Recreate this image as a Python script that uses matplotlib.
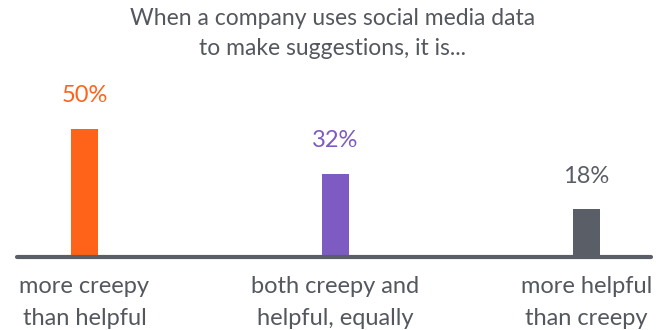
import matplotlib
matplotlib.use("Agg")
import matplotlib.pyplot as plt
from matplotlib.transforms import blended_transform_factory

categories = [["more creepy", "than helpful"],
              ["both creepy and", "helpful, equally"],
              ["more helpful", "than creepy"]]
values = [50, 32, 18]
value_labels = ["50%", "32%", "18%"]
colors = ["#FF6319", "#7E5BC3", "#5A5E66"]
title_lines = ["When a company uses social media data", "to make suggestions, it is..."]

plt.rcParams["font.family"] = ["Lato", "DejaVu Sans"]
text_color = "#54585E"
H = 330.0

fig = plt.figure(figsize=(6.65, 3.3), dpi=100)
ax = fig.add_axes([0, 0, 1, 1])
ax.axis("off")

# pixel mapping: bar centers at 84.5 + 251*i, baseline 75px from bottom, 2.53 px per %
px_per_unit_x = 251.0
px_per_pct = 2.53
ax.set_xlim(-84.5 / px_per_unit_x, (665 - 84.5) / px_per_unit_x)
ax.set_ylim(-75 / px_per_pct, (H - 75) / px_per_pct)

xs = list(range(len(values)))
ax.bar(xs, values, width=27 / px_per_unit_x, color=colors, zorder=2)

# baseline
x0 = (17 - 84.5) / px_per_unit_x
x1 = (651 - 84.5) / px_per_unit_x
ax.plot([x0, x1], [-0.9, -0.9], color="#5A5E66", lw=3.0, solid_capstyle="round", zorder=3)

# value labels just above bars
for x, v, lab, c in zip(xs, values, value_labels, colors):
    ax.text(x, v + 10.5, lab, ha="center", va="baseline", fontsize=17, color=c)

trans = blended_transform_factory(ax.transData, fig.transFigure)
for x, lines in zip(xs, categories):
    for line, py in zip(lines, [293, 325]):
        ax.text(x, 1 - py / H, line, ha="center", va="baseline", fontsize=17,
                color=text_color, transform=trans)

for line, py in zip(title_lines, [25, 55]):
    fig.text(0.5, 1 - py / H, line, ha="center", va="baseline", fontsize=16.5,
             color=text_color)

fig.savefig("out.png", dpi=100)
